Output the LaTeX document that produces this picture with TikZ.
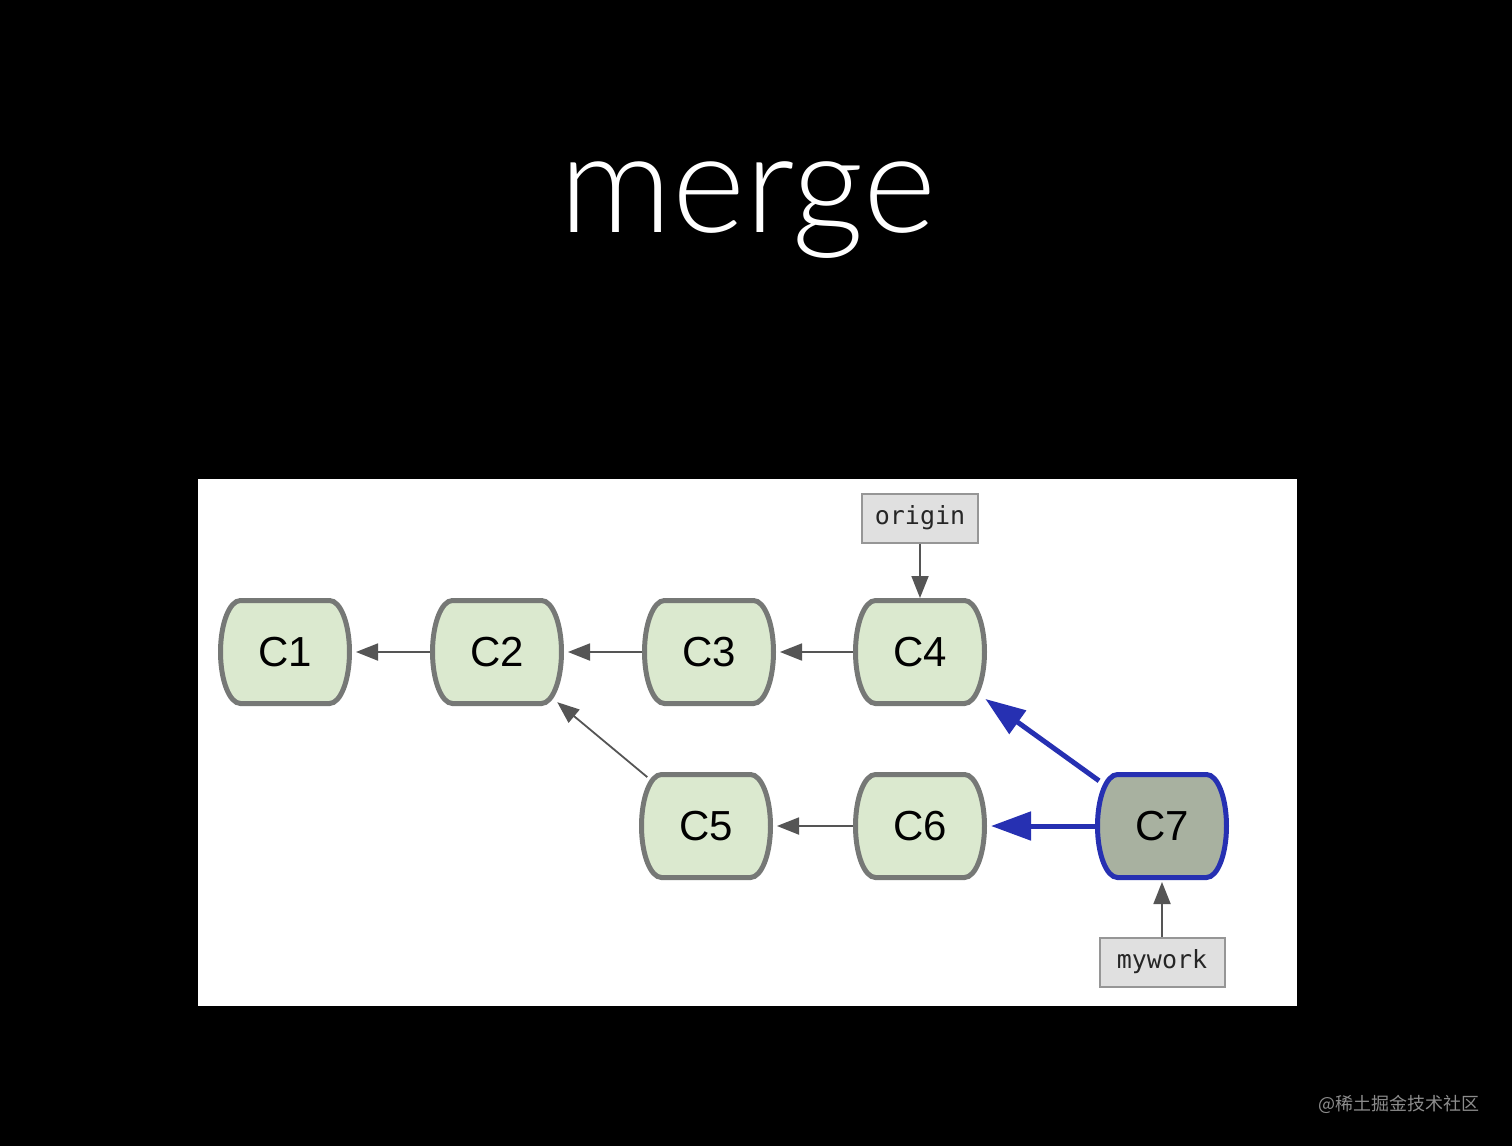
\documentclass[tikz,border=0pt]{standalone}
\usepackage{fontspec}
\setmainfont{Liberation Sans}
\newfontfamily\titlefont{Lato Light}
\newfontfamily\labelfont{DejaVu Sans Mono}
\newfontfamily\cjk{Noto Sans CJK SC}
\usetikzlibrary{arrows.meta}
\definecolor{commitfill}{RGB}{219,233,207}
\definecolor{commitline}{RGB}{118,120,118}
\definecolor{headfill}{RGB}{168,177,160}
\definecolor{headline}{RGB}{38,48,178}
\definecolor{reffill}{RGB}{224,224,224}
\definecolor{refline}{RGB}{150,150,150}
\definecolor{arrowgray}{RGB}{85,85,85}
% commit: outline with bulging sides, then the named node on top
\newcommand\commit[4][]{%
  \draw[commitshape,#1] ({#3-44.5},{#4-51.5}) -- ({#3+44.5},{#4-51.5})
    .. controls ({#3+55.5},{#4-51.5}) and ({#3+64.5},{#4-28.4}) .. ({#3+64.5},{#4})
    .. controls ({#3+64.5},{#4+28.4}) and ({#3+55.5},{#4+51.5}) .. ({#3+44.5},{#4+51.5})
    -- ({#3-44.5},{#4+51.5})
    .. controls ({#3-55.5},{#4+51.5}) and ({#3-64.5},{#4+28.4}) .. ({#3-64.5},{#4})
    .. controls ({#3-64.5},{#4-28.4}) and ({#3-55.5},{#4-51.5}) .. cycle;
  \node[commitbox] (#2) at (#3,#4) {\MakeUppercase{#2}};}

\begin{document}
\begin{tikzpicture}[x=0.5pt,y=-0.5pt,
  commitshape/.style={draw=commitline, fill=commitfill, line width=2.5pt},
  headcommit/.style={draw=headline, fill=headfill},
  commitbox/.style={rectangle, minimum width=67pt, minimum height=54pt,
    inner sep=0pt, outer sep=0pt, font=\fontsize{21}{21}\selectfont},
  branch/.style={draw=refline, fill=reffill, line width=1pt, inner sep=0pt,
    minimum height=24.5pt, text=black!85,
    font=\labelfont\fontsize{12.5}{12.5}\selectfont},
  parent/.style={draw=arrowgray, line width=0.9pt, shorten >=2pt,
    -{Triangle[length=11pt,width=8.5pt]}},
  mergeparent/.style={draw=headline, line width=2.5pt, shorten >=2pt,
    -{Triangle[length=20pt,width=14pt]}}]
% background and frame
\fill[black] (0,0) rectangle (1512,1146);
\useasboundingbox (0,0) rectangle (1512,1146);
\fill[white] (198,479) rectangle (1297,1006);
% title
\node[text=white, font=\titlefont\fontsize{70}{70}\selectfont, anchor=base]
  (title) at (748,232) {merge};
% commits
\commit{c1}{285}{652}
\commit{c2}{497}{652}
\commit{c3}{709}{652}
\commit{c4}{920}{652}
\commit{c5}{706}{826}
\commit{c6}{920}{826}
\commit[headcommit]{c7}{1162}{826}
% branches
\node[branch, minimum width=58pt] (origin) at (920,518) {origin};
\node[branch, minimum width=62.5pt] (mywork) at (1162,962) {mywork};
% history
\draw[parent] (c2) -- (c1);
\draw[parent] (c3) -- (c2);
\draw[parent] (c4) -- (c3);
\draw[parent] (c6) -- (c5);
\draw[parent, shorten <=-4pt, shorten >=-3pt] (c5) -- (c2);
\draw[parent, shorten >=0pt] (origin) -- (c4);
\draw[parent, shorten >=1pt] (mywork) -- (c7);
\draw[mergeparent, shorten <=-2.5pt, shorten >=-1pt] (c7) -- (c4);
\draw[mergeparent] (c7) -- (c6);
% watermark
\node[text=black!45, font=\cjk\fontsize{9}{9}\selectfont, anchor=east,
  inner sep=0pt] (mark) at (1480,1104) {@稀土掘金技术社区};
\end{tikzpicture}
\end{document}
